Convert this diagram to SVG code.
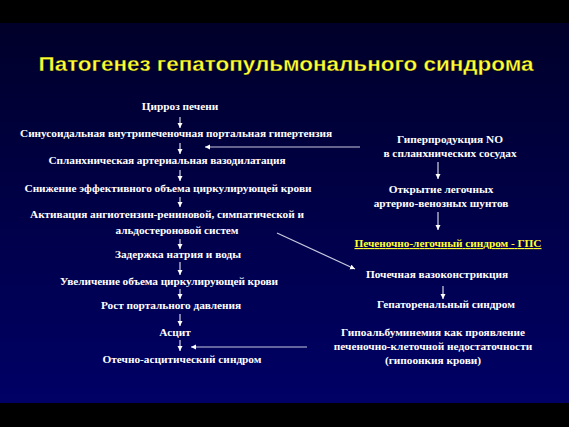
<svg xmlns="http://www.w3.org/2000/svg" width="569" height="427" viewBox="0 0 569 427">
<defs>
<linearGradient id="bg" x1="0" y1="0" x2="0" y2="1">
<stop offset="0" stop-color="#00002a"/>
<stop offset="1" stop-color="#000066"/>
</linearGradient>
<marker id="ah" markerWidth="6" markerHeight="6" refX="5" refY="3" orient="auto" markerUnits="userSpaceOnUse">
<path d="M0,0.5 L5,3 L0,5.5 Z" fill="#ffffff"/>
</marker>
<style>
.t{font-family:"Liberation Serif","Times New Roman",serif;font-weight:bold;font-size:11.3px;fill:#ffffff;text-anchor:middle}
.y{fill:#ffff33;text-decoration:underline}
.ttl{font-family:"Liberation Sans",Arial,sans-serif;font-weight:bold;font-size:21px;fill:#ffff33;text-anchor:middle}
.c{stroke:#ffffff;stroke-width:1;fill:none;marker-end:url(#ah)}
.c2{stroke:#c8c8e0;stroke-width:1.2;fill:none;marker-end:url(#ah)}
</style>
</defs>
<rect x="0" y="0" width="569" height="427" fill="#000000"/>
<rect x="0" y="23" width="569" height="380" fill="url(#bg)"/>
<text class="ttl" x="286" y="71" textLength="495" lengthAdjust="spacingAndGlyphs" stroke="#000000" stroke-width="0.3">Патогенез гепатопульмонального синдрома</text>

<g id="n1"><text class="t" x="180" y="110">Цирроз печени</text></g>
<g id="n2"><text class="t" x="176" y="137" textLength="312">Синусоидальная внутрипеченочная портальная гипертензия</text></g>
<g id="n3"><text class="t" x="167" y="164" textLength="237">Спланхническая артериальная вазодилатация</text></g>
<g id="n4"><text class="t" x="168" y="192" textLength="287">Снижение эффективного объема циркулирующей крови</text></g>
<g id="n5"><text class="t" x="167" y="218" textLength="274">Активация ангиотензин-рениновой, симпатической и</text><text class="t" x="177" y="234" textLength="123">альдостероновой систем</text></g>
<g id="n6"><text class="t" x="178" y="258">Задержка натрия и воды</text></g>
<g id="n7"><text class="t" x="169" y="285" textLength="218">Увеличение объема циркулирующей крови</text></g>
<g id="n8"><text class="t" x="171" y="309" textLength="140">Рост портального давления</text></g>
<g id="n9"><text class="t" x="175" y="336">Асцит</text></g>
<g id="n10"><text class="t" x="182" y="363" textLength="159">Отечно-асцитический синдром</text></g>

<g id="r1"><text class="t" x="450" y="143">Гиперпродукция NO</text><text class="t" x="450" y="157">в спланхнических сосудах</text></g>
<g id="r2"><text class="t" x="441" y="193">Открытие легочных</text><text class="t" x="441" y="207">артерио-венозных шунтов</text></g>
<g id="r3"><text class="t y" x="448" y="247" textLength="187">Печеночно-легочный синдром - ГПС</text></g>
<g id="r4"><text class="t" x="437" y="278">Почечная вазоконстрикция</text></g>
<g id="r5"><text class="t" x="446" y="308">Гепаторенальный синдром</text></g>
<g id="r6"><text class="t" x="433" y="336">Гипоальбуминемия как проявление</text><text class="t" x="433" y="350">печеночно-клеточной недостаточности</text><text class="t" x="433" y="364">(гипоонкия крови)</text></g>

<g id="connectors">
<line class="c" x1="180" y1="117" x2="180" y2="128"/>
<line class="c" x1="180" y1="143" x2="180" y2="154"/>
<line class="c" x1="180" y1="170" x2="180" y2="181"/>
<line class="c" x1="180" y1="197" x2="180" y2="207"/>
<line class="c" x1="180" y1="239" x2="180" y2="249"/>
<line class="c" x1="180" y1="262" x2="180" y2="275"/>
<line class="c" x1="180" y1="289" x2="180" y2="299"/>
<line class="c" x1="180" y1="314" x2="180" y2="326"/>
<line class="c" x1="180" y1="340" x2="180" y2="351"/>
<line class="c" x1="438" y1="162" x2="438" y2="179"/>
<line class="c" x1="438" y1="212" x2="438" y2="230"/>
<line class="c" x1="443" y1="286" x2="443" y2="299"/>
<line class="c2" x1="360" y1="147" x2="205" y2="147"/>
<line class="c2" x1="277" y1="233" x2="355" y2="269"/>
<line class="c2" x1="307" y1="347" x2="191" y2="347"/>
</g>
</svg>
